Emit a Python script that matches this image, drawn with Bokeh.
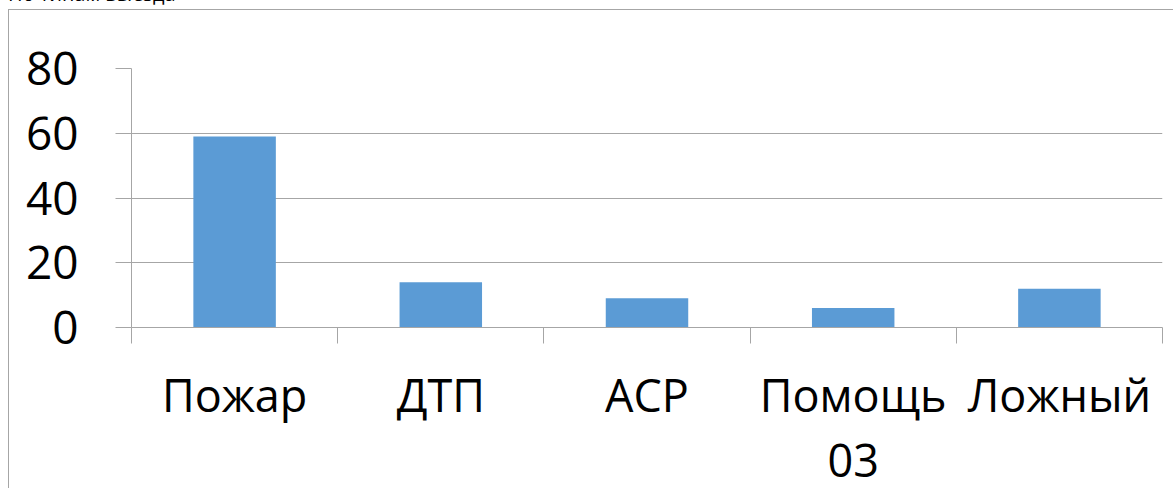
from bokeh.plotting import figure
from bokeh.models import (Range1d, LinearAxis, FixedTicker, Div, ColumnDataSource)
from bokeh.layouts import column
from bokeh.embed import file_html
from bokeh.resources import INLINE

title_text = "По типам выезда"
categories = ["Пожар", "ДТП", "АСР", "Помощь 03", "Ложный"]
values = [59, 14, 9, 6, 12]
y_ticks = [0, 20, 40, 60, 80]

FONT = "Open Sans"
GRID = "#A6A6A6"
BAR = "#5B9BD5"

n = len(categories)
centers = [i + 0.5 for i in range(n)]
bounds = list(range(n + 1))
src = ColumnDataSource(dict(x=centers, val=values, cat=categories))

p = figure(width=1165, height=483, output_backend="svg", toolbar_location=None,
           x_range=Range1d(0, n), y_range=Range1d(0, 80), x_axis_location=None,
           min_border_left=122, min_border_right=12, min_border_top=58,
           min_border_bottom=166, outline_line_color=None,
           styles={"border-left": f"1px solid {GRID}", "border-top": f"1px solid {GRID}"})

p.vbar(x="x", top="val", width=0.4, source=src, fill_color=BAR, line_color=None)

# y axis
ya = p.yaxis[0]
ya.ticker = FixedTicker(ticks=y_ticks)
ya.axis_line_color = GRID
ya.major_tick_line_color = GRID
ya.major_tick_out = 16
ya.major_tick_in = 0
ya.minor_tick_line_color = None
ya.major_label_text_font = FONT
ya.major_label_text_font_size = "46px"
ya.major_label_text_color = "black"
ya.major_label_standoff = 37

p.ygrid.ticker = FixedTicker(ticks=y_ticks)
p.ygrid.grid_line_color = GRID
p.xgrid.grid_line_color = None

# x axis: labels at band centres, tick marks at category boundaries (minor ticks)
overrides = {c: lab for c, lab in zip(centers, categories)}
overrides[centers[3]] = "Помощь\n03"
cx = LinearAxis(ticker=FixedTicker(ticks=centers, minor_ticks=bounds),
                axis_line_color=GRID,
                major_tick_line_color=None, major_tick_out=16, major_tick_in=0,
                minor_tick_line_color=GRID, minor_tick_out=16, minor_tick_in=0,
                major_label_text_font=FONT, major_label_text_font_size="45px",
                major_label_text_color="black", major_label_standoff=20,
                major_label_text_line_height=1.07,
                major_label_overrides=overrides)
p.add_layout(cx, "below")

title = Div(text=title_text, width=1165, height=29,
            styles={"font-family": FONT, "font-size": "20px", "line-height": "27px",
                    "color": "black", "margin": "0", "padding": "0"})

layout = column(title, p, spacing=0,
                styles={"position": "relative", "top": "-20px", "left": "8px",
                        "height": "508px", "overflow": "hidden"})

open("out.html", "w").write(file_html(layout, INLINE))
